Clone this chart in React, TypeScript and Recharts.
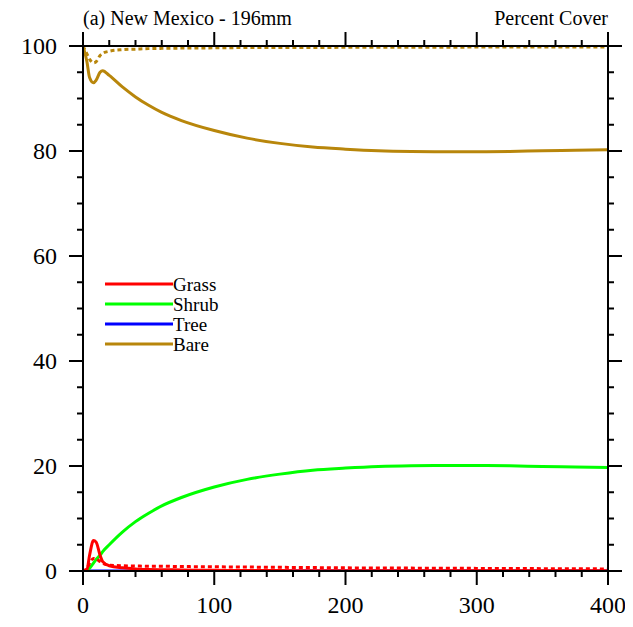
import React from "react";
import { LineChart, Line, XAxis, YAxis } from "recharts";

const years = [0, 3, 5, 8, 10, 13, 15, 20, 30, 40, 50, 60, 75, 100, 125, 150, 175, 200, 225, 250, 275, 300, 325, 350, 375, 400];
const bareSolid = [100, 97, 94, 93, 93.5, 95, 95.3, 94.4, 92.2, 90.3, 88.7, 87.35, 85.8, 83.9, 82.45, 81.45, 80.75, 80.35, 80.05, 79.9, 79.85, 79.85, 79.9, 80.05, 80.15, 80.25];
const bareDashed = [100, 98.5, 97.5, 96.8, 97, 98.2, 98.6, 99, 99.3, 99.4, 99.5, 99.55, 99.6, 99.65, 99.7, 99.7, 99.7, 99.75, 99.75, 99.75, 99.75, 99.8, 99.8, 99.8, 99.8, 99.8];
const grassSolid = [0, 0.3, 3, 5.8, 5.5, 3, 1.8, 1.0, 0.6, 0.4, 0.3, 0.25, 0.2, 0.12, 0.1, 0.08, 0.06, 0.05, 0.05, 0.05, 0.05, 0.05, 0.05, 0.05, 0.05, 0.05];
const grassDashed = [0, 0.5, 1.5, 2.4, 2.3, 1.8, 1.5, 1.1, 1.0, 0.95, 0.9, 0.9, 0.85, 0.8, 0.75, 0.7, 0.65, 0.6, 0.58, 0.55, 0.52, 0.5, 0.48, 0.45, 0.42, 0.4];
const shrubSolid = [0, 0, 0.5, 1.5, 2.2, 3.0, 3.7, 5.0, 7.4, 9.4, 11.0, 12.4, 14.0, 16.0, 17.45, 18.45, 19.2, 19.6, 19.9, 20.05, 20.1, 20.1, 20.05, 19.9, 19.8, 19.7];
const treeSolid = years.map(() => 0);

const xTicks = [0, 20, 40, 60, 80, 100, 120, 140, 160, 180, 200, 220, 240, 260, 280, 300, 320, 340, 360, 380, 400];
const yTicks = [0, 5, 10, 15, 20, 25, 30, 35, 40, 45, 50, 55, 60, 65, 70, 75, 80, 85, 90, 95, 100];

const legendItems = [
  { name: "Grass", color: "#ff0000" },
  { name: "Shrub", color: "#00ff00" },
  { name: "Tree", color: "#0000ff" },
  { name: "Bare", color: "#b8860b" },
];

const data = years.map((x, i) => ({
  x,
  bare: bareSolid[i],
  bareD: bareDashed[i],
  grass: grassSolid[i],
  grassD: grassDashed[i],
  shrub: shrubSolid[i],
  tree: treeSolid[i],
}));

const FONT = "'Liberation Serif', 'Times New Roman', serif";
const MAJOR = 14;
const MINOR = 6;

const BottomTick = (props: any) => {
  const { x, y, payload } = props;
  const major = payload.value % 100 === 0;
  return (
    <g>
      <line x1={x} y1={y} x2={x} y2={y + (major ? MAJOR : MINOR)} stroke="#000" strokeWidth={2} />
      {major && (
        <text x={x} y={y + 42} textAnchor="middle" fontSize={24} fontFamily={FONT} fill="#000">
          {payload.value}
        </text>
      )}
    </g>
  );
};

const TopTick = (props: any) => {
  const { x, y, payload } = props;
  const major = payload.value % 100 === 0;
  return <line x1={x} y1={y} x2={x} y2={y - (major ? MAJOR : MINOR)} stroke="#000" strokeWidth={2} />;
};

const LeftTick = (props: any) => {
  const { x, y, payload } = props;
  const major = payload.value % 20 === 0;
  return (
    <g>
      <line x1={x} y1={y} x2={x - (major ? MAJOR : MINOR)} y2={y} stroke="#000" strokeWidth={2} />
      {major && (
        <text x={x - 26} y={y + 8} textAnchor="end" fontSize={24} fontFamily={FONT} fill="#000">
          {payload.value}
        </text>
      )}
    </g>
  );
};

const RightTick = (props: any) => {
  const { x, y, payload } = props;
  const major = payload.value % 20 === 0;
  return <line x1={x} y1={y} x2={x + (major ? MAJOR : MINOR)} y2={y} stroke="#000" strokeWidth={2} />;
};

const LegendBox = () => (
  <div style={{ position: "absolute", left: 97, top: 266, fontFamily: FONT, fontSize: 19, lineHeight: "19px" }}>
    {legendItems.map((it) => (
      <div key={it.name} style={{ display: "flex", alignItems: "center", height: 20 }}>
        <svg width={68} height={6} style={{ display: "block" }}>
          <line x1={0} y1={3} x2={68} y2={3} stroke={it.color} strokeWidth={3} />
        </svg>
        <span style={{ color: "#000" }}>{it.name}</span>
      </div>
    ))}
  </div>
);

export default function App() {
  return (
    <div style={{ position: "relative", width: 625, height: 610 }}>
      <div style={{ position: "absolute", left: 75, top: 0, fontFamily: FONT, fontSize: 20, lineHeight: "20px", color: "#000" }}>
        (a) New Mexico - 196mm
      </div>
      <div style={{ position: "absolute", right: 25, top: 0, fontFamily: FONT, fontSize: 20, lineHeight: "20px", color: "#000" }}>
        Percent Cover
      </div>
      <LineChart width={625} height={610} data={data} margin={{ top: 18, right: 5, bottom: 7, left: 15 }}>
        <XAxis dataKey="x" type="number" domain={[0, 400]} ticks={xTicks} interval={0} allowDataOverflow
          height={40} tickSize={0} tickMargin={0} tickLine={false} axisLine={{ stroke: "#000", strokeWidth: 2 }} tick={<BottomTick />} />
        <XAxis xAxisId="top" orientation="top" dataKey="x" type="number" domain={[0, 400]} ticks={xTicks} interval={0} allowDataOverflow
          height={20} tickSize={0} tickMargin={0} tickLine={false} axisLine={{ stroke: "#000", strokeWidth: 2 }} tick={<TopTick />} />
        <YAxis type="number" domain={[0, 100]} ticks={yTicks} interval={0} allowDataOverflow width={60}
          tickSize={0} tickMargin={0} tickLine={false} axisLine={{ stroke: "#000", strokeWidth: 2 }} tick={<LeftTick />} />
        <YAxis yAxisId="right" orientation="right" type="number" domain={[0, 100]} ticks={yTicks} interval={0} allowDataOverflow width={20}
          tickSize={0} tickMargin={0} tickLine={false} axisLine={{ stroke: "#000", strokeWidth: 2 }} tick={<RightTick />} />
        <Line type="monotone" dataKey="tree" stroke="#0000ff" strokeWidth={3} dot={false} isAnimationActive={false} />
        <Line type="monotone" dataKey="shrub" stroke="#00ff00" strokeWidth={3} dot={false} isAnimationActive={false} />
        <Line type="monotone" dataKey="grassD" stroke="#ff0000" strokeWidth={3} strokeDasharray="4 3" dot={false} isAnimationActive={false} />
        <Line type="monotone" dataKey="grass" stroke="#ff0000" strokeWidth={3} dot={false} isAnimationActive={false} />
        <Line type="monotone" dataKey="bareD" stroke="#b8860b" strokeWidth={3} strokeDasharray="4 3" dot={false} isAnimationActive={false} />
        <Line type="monotone" dataKey="bare" stroke="#b8860b" strokeWidth={3} dot={false} isAnimationActive={false} />
      </LineChart>
      <LegendBox />
    </div>
  );
}
